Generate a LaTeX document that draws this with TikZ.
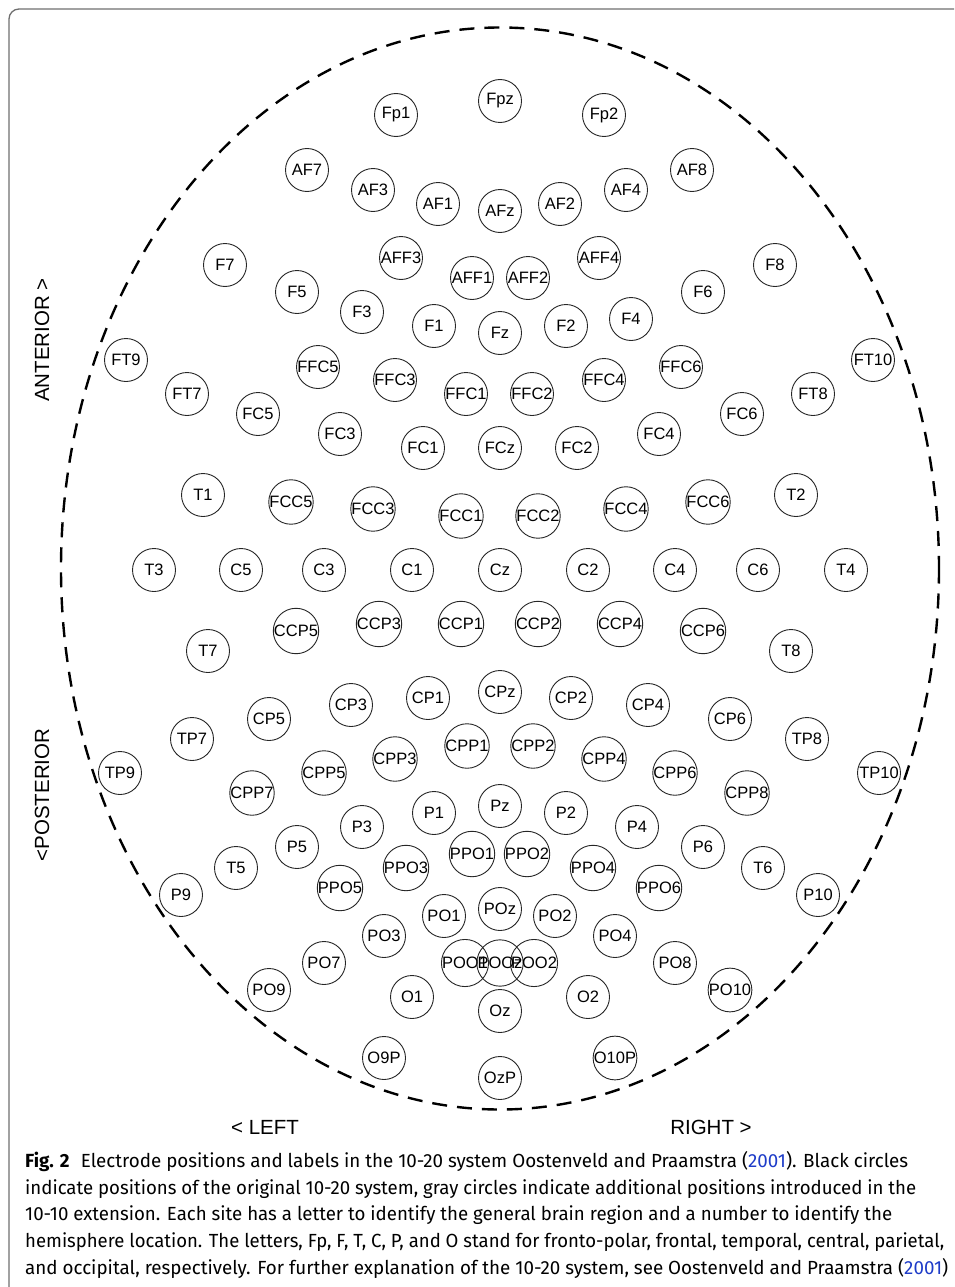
\documentclass[tikz,border=0pt]{standalone}
\usepackage{fontspec}
\setmainfont{Liberation Sans}
\newfontfamily\capfont{Fira Sans}
\usepackage{graphicx}
\definecolor{linkblue}{RGB}{30,60,200}
\definecolor{framegray}{RGB}{110,110,110}
\begin{document}
\begin{tikzpicture}[x=1pt,y=-1pt,
  el/.style={draw=black!85,line width=0.9pt,circle,minimum size=43pt,inner sep=0pt,font=\fontsize{16.5}{18}\selectfont},
  side/.style={font=\fontsize{20.5}{24}\selectfont},
  capline/.style={anchor=base west,inner sep=0pt,font=\capfont\fontsize{19}{22}\selectfont}]
\useasboundingbox (0,0) rectangle (954,1287);
% frame
\draw[framegray,line width=1.3pt,rounded corners=10pt] (9,1287) -- (9,9) -- (954,9);
% head outline
\draw[black,line width=2.4pt,dash pattern=on 15pt off 10pt] (500,568.5) ellipse [x radius=439, y radius=541];
\foreach \n/\x/\y in {
Fp1/396/115, Fpz/500/101, Fp2/604/115,
AF7/307/170, AF3/373/190, AF1/438/204, AFz/500/211, AF2/560/204, AF4/626/190, AF8/692/170,
AFF3/401/258, AFF1/472/278, AFF2/528/278, AFF4/599/258,
F7/225/265, F5/297/292, F3/362/312, F1/434/326, Fz/500/333, F2/566/326, F4/631/319, F6/703/292, F8/775/265,
FT9/126/360, FT10/873/360, FT7/187/394, FT8/813/394,
FFC5/318/367, FFC3/395/380, FFC1/466/394, FFC2/532/394, FFC4/604/380, FFC6/681/367,
FC5/258/414, FC3/340/434, FC1/423/448, FCz/500/448, FC2/577/448, FC4/659/434, FC6/742/414,
T1/203/495, T2/796/495,
FCC5/291/502, FCC3/373/509, FCC1/461/516, FCC2/538/516, FCC4/626/509, FCC6/708/502,
T3/154/570, C5/241/570, C3/324/570, C1/412/570, Cz/500/570, C2/588/570, C4/675/570, C6/758/570, T4/846/570,
T7/208/651, T8/791/651,
CCP5/296/631, CCP3/379/624, CCP1/461/624, CCP2/538/624, CCP4/620/624, CCP6/703/631,
CP5/269/719, CP3/351/705, CP1/428/698, CPz/500/692, CP2/571/698, CP4/648/705, CP6/730/719,
TP7/192/739, TP8/807/739, TP9/120/773, TP10/879/773,
CPP7/252/793, CPP5/324/773, CPP3/395/759, CPP1/467/746, CPP2/533/746, CPP4/604/759, CPP6/675/773, CPP8/747/793,
P3/362/827, P1/434/813, Pz/500/806, P2/566/813, P4/637/827,
P5/297/847, P6/703/847, T5/236/868, T6/763/868, P9/181/895, P10/818/895,
PPO5/340/888, PPO3/406/868, PPO1/472/854, PPO2/527/854, PPO4/593/868, PPO6/659/888,
PO1/444/916, POz/500/909, PO2/555/916, PO3/384/936, PO4/615/936,
PO7/324/963, PO8/675/963, PO9/269/990, PO10/730/990,
POO1/465/963, POOz/500/963, POO2/534/963,
O1/412/997, Oz/500/1011, O2/588/997,
O9P/384/1058, OzP/500/1078, O10P/615/1058}
  \node[el] (\n) at (\x,\y) {\n};
% side labels
\node[side,rotate=90] (ant) at (42,340) {ANTERIOR >};
\node[side,rotate=90] (post) at (42,795) {<POSTERIOR};
\node[side] (left) at (265,1127) {< LEFT};
\node[side] (right) at (711,1127) {RIGHT >};
% caption
\node[capline] (c1) at (25,1167) {\resizebox{883pt}{\height}{\textbf{Fig. 2}\hspace{0.6em}Electrode positions and labels in the 10-20 system Oostenveld and Praamstra (\textcolor{linkblue}{2001}). Black circles}};
\node[capline] (c2) at (25,1194) {\resizebox{891pt}{\height}{indicate positions of the original 10-20 system, gray circles indicate additional positions introduced in the}};
\node[capline] (c3) at (25,1220) {\resizebox{867pt}{\height}{10-10 extension. Each site has a letter to identify the general brain region and a number to identify the}};
\node[capline] (c4) at (25,1247) {\resizebox{919pt}{\height}{hemisphere location. The letters, Fp, F, T, C, P, and O stand for fronto-polar, frontal, temporal, central, parietal,}};
\node[capline] (c5) at (25,1274) {\resizebox{923pt}{\height}{and occipital, respectively. For further explanation of the 10-20 system, see Oostenveld and Praamstra (\textcolor{linkblue}{2001})}};
\end{tikzpicture}
\end{document}
